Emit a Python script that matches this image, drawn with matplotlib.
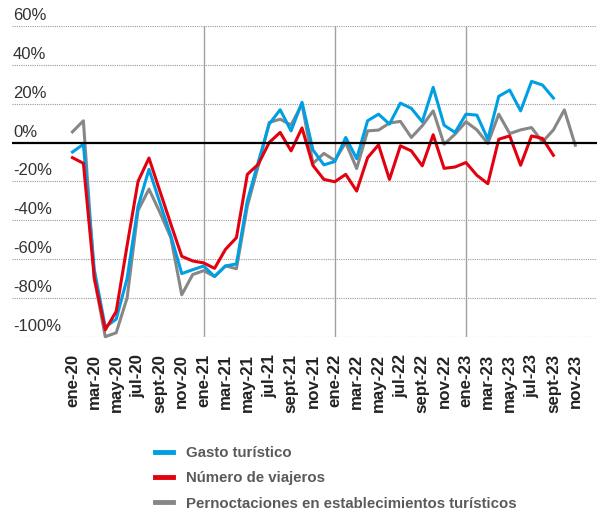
import matplotlib.pyplot as plt
from matplotlib.lines import Line2D

# Monthly series, ene-20 .. nov-23 (index 0 = ene-20)
gasto = [-4.9, -0.9, -65.5, -95, -91, -70, -33, -13.8, -31, -48,
         -67.5, -65.5, -63.6, -69, -63.6, -62.5, -30, -10, 9.5, 16.9,
         6, 20.7, -3.8, -11.5, -9.8, 2.6, -8.3, 11.2, 14.6, 9.5,
         20.3, 17.6, 10.7, 28.4, 8.9, 5.2, 14.6, 14.1, 1.7, 23.8,
         27, 16.3, 31.5, 29.6, 22.9]
viajeros = [-7.8, -10.7, -69.8, -96.5, -87, -53, -20, -8, -25, -42,
            -58.6, -61, -62, -64.8, -55, -49, -16.4, -11.2, 0, 5.2,
            -4.3, 7.5, -11.8, -19, -20.2, -16.4, -25, -7.8, -1.2, -19,
            -1.7, -4.3, -12, 4, -13.3, -12.6, -10.3, -16.9, -21.2, 1.7,
            3.4, -11.7, 3.4, 2.1, -6.6]
pernoctaciones = [5.5, 11.2, -70, -100, -98, -80, -35, -24, -36, -49,
                  -78.4, -68, -66, -69, -63.5, -65, -32.8, -12, 10.3, 12,
                  9, 19.8, -10.8, -5.6, -9.2, 0, -13.4, 6, 6.4, 10,
                  10.9, 2.6, 8.6, 16.3, -0.9, 4.3, 10.7, 6.5, -0.5, 14.6,
                  4.6, 6.5, 7.7, 0.3, 6.5, 16.8, -1.4]

tick_labels = ["ene-20", "mar-20", "may-20", "jul-20", "sept-20", "nov-20",
               "ene-21", "mar-21", "may-21", "jul-21", "sept-21", "nov-21",
               "ene-22", "mar-22", "may-22", "jul-22", "sept-22", "nov-22",
               "ene-23", "mar-23", "may-23", "jul-23", "sept-23", "nov-23"]
y_levels = [60, 40, 20, 0, -20, -40, -60, -80, -100]
year_starts = [12, 24, 36]

blue = "#009FE3"
red = "#E3000F"
gray = "#878787"

plt.rcParams['font.family'] = ['Liberation Sans', 'DejaVu Sans']

fig = plt.figure(figsize=(6.02, 5.15), dpi=100)
ax = fig.add_axes([0.0194, 0.3462, 0.9718, 0.6033])

# grid
for v in y_levels:
    if v == 0:
        ax.axhline(0, color="black", lw=1.6, zorder=5)
    else:
        ax.axhline(v, color="#9a9a9a", lw=0.8, ls=(0, (1, 1)), zorder=1)
    ax.annotate(f"{v}%", xy=(0, v), xycoords=('axes fraction', 'data'),
                xytext=(1, 4.3), textcoords='offset points',
                ha='left', va='baseline', fontsize=12, color="#333333")

for s in year_starts:
    ax.plot([s, s], [-100, 60], color="#a0a0a0", lw=1, zorder=1)

x_g = list(range(len(gasto)))
x_v = list(range(len(viajeros)))
x_p = list(range(len(pernoctaciones)))

ax.plot(x_p, pernoctaciones, color=gray, lw=2.2, zorder=3, clip_on=False)
ax.plot(x_g, gasto, color=blue, lw=2.2, zorder=4, clip_on=False)
ax.plot(x_v, viajeros, color=red, lw=2.2, zorder=4.5, clip_on=False)

ax.set_xlim(-5.56, 47.96)
ax.set_ylim(-100, 60)
ax.set_yticks([])
ax.set_xticks(range(0, 47, 2))
ax.set_xticklabels(tick_labels, rotation=90, fontsize=12.2, fontweight='bold',
                   color="#222222")
ax.tick_params(axis='x', length=0, pad=12.5)
for sp in ax.spines.values():
    sp.set_visible(False)

handles = [Line2D([], [], color=blue, lw=3.5),
           Line2D([], [], color=red, lw=3.5),
           Line2D([], [], color=gray, lw=3.5)]
labels = ["Gasto turístico", "Número de viajeros",
          "Pernoctaciones en establecimientos turísticos"]
leg = fig.legend(handles, labels, loc='upper left',
                 bbox_to_anchor=(155 / 602, 1 - 446 / 515),
                 frameon=False, borderpad=0, borderaxespad=0,
                 handlelength=1.2, handletextpad=0.85, labelspacing=0.75,
                 prop={'size': 10.8, 'weight': 'bold'})
for t in leg.get_texts():
    t.set_color("#5a5a5a")

fig.savefig("out.png", dpi=100)
